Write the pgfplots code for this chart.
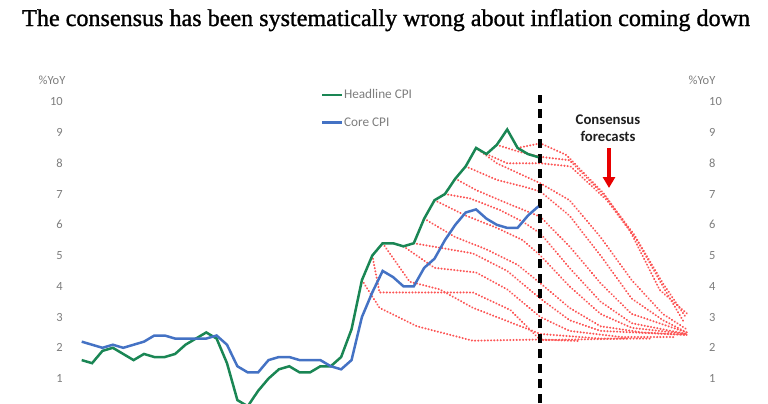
\documentclass[border=0pt]{standalone}
\usepackage{pgfplots}
\pgfplotsset{compat=1.18}
\usepackage{fontspec}
\setmainfont{Liberation Serif}
\newfontfamily\titlefont[FakeBold=1.2]{Liberation Serif}
\newfontfamily\calfont{Carlito}
\usetikzlibrary{arrows.meta}
\definecolor{hgreen}{RGB}{26,134,84}
\definecolor{cblue}{RGB}{68,114,196}
\definecolor{fred}{RGB}{252,85,85}
\definecolor{tgray}{RGB}{125,125,125}
\definecolor{arrred}{RGB}{232,0,0}
\pgfplotsset{
  base/.style={
    scale only axis, width=630bp, height=308bp,
    xmin=-1.128, xmax=59.58, ymin=0.205, ymax=10.221,
    axis line style={draw=none}, major tick length=0pt,
    xtick=\empty, ytick={1,2,3,4,5,6,7,8,9,10},
    /pgf/number format/assume math mode=true,
  },
  fc/.style={fred, line width=2.1bp, line cap=round, dash pattern=on 0.2bp off 3.0bp, forget plot},
}
\begin{document}
\begin{tikzpicture}[x=1bp,y=1bp]
\path[use as bounding box] (0,0) rectangle (768,403);
\node[anchor=base west, inner sep=0, font=\titlefont\fontsize{24.2}{28}\selectfont] at (22,377) {The consensus has been systematically wrong about inflation coming down};
\begin{axis}[base, at={(70bp,0bp)}, anchor=south west,
  yticklabel pos=left,
  yticklabel style={font=\calfont\fontsize{12.5}{14}\selectfont, text=tgray, anchor=east, inner sep=0pt, xshift=-7bp},
  legend style={at={(0.398,1.020)}, anchor=north west, draw=none, fill=none, inner sep=0pt,
    font=\calfont\fontsize{13.3}{15}\selectfont, text=tgray, row sep=16bp,
    nodes={inner sep=0.6bp}},
  legend cell align=left,
  legend image code/.code={\draw[#1] (0bp,0bp) -- (20bp,0bp);},
]
% consensus forecasts
\addplot[fc] coordinates {(27,4.2)(28.7,3.3)(32.3,2.7)(37.7,2.23)(44.2,2.27)(48,2.22)};
\addplot[fc] coordinates {(28,5.0)(28.7,3.8)(37.7,3.8)(41.3,3.23)(44.2,2.25)(52.5,2.3)};
\addplot[fc] coordinates {(29,5.4)(31.6,4.15)(34.5,3.9)(37.7,3.3)(44.2,2.45)(50,2.3)(55,2.3)};
\addplot[fc] coordinates {(31,5.3)(34,4.6)(38,4.45)(41,3.9)(44.2,3.0)(47,2.55)(52,2.35)(57,2.35)};
\addplot[fc] coordinates {(32,5.4)(37.7,5.07)(41,4.5)(44.2,3.6)(47,2.9)(50,2.55)(58.3,2.42)};
\addplot[fc] coordinates {(33,6.2)(36,5.6)(39,5.2)(42,4.7)(44.2,4.1)(47,3.3)(50,2.7)(54,2.5)(58.3,2.42)};
\addplot[fc] coordinates {(34,6.8)(37,6.3)(40,5.9)(42.5,5.5)(44.2,5.0)(47,4.0)(50,3.1)(53,2.65)(58.3,2.45)};
\addplot[fc] coordinates {(35,7.0)(37.4,6.86)(40.3,6.48)(42.5,6.1)(44.2,5.72)(47,4.6)(50,3.5)(53,2.8)(58.3,2.45)};
\addplot[fc] coordinates {(36,7.5)(38,7.13)(41,6.7)(44.2,6.26)(47,5.3)(50,4.1)(53,3.1)(58.3,2.5)};
\addplot[fc] coordinates {(37,7.9)(40,7.46)(42.6,7.24)(44.2,7.08)(47,6.3)(50,5.0)(53,3.6)(56,2.9)(58.3,2.5)};
\addplot[fc] coordinates {(38,8.5)(40,8.0)(44.2,7.35)(47,6.8)(50,5.6)(53,4.2)(56,3.1)(58.3,2.6)};
\addplot[fc] coordinates {(39,8.3)(41,8.0)(44.2,8.0)(47.1,7.9)(50.6,6.8)(53.5,5.5)(56,4.0)(58,2.85)};
\addplot[fc] coordinates {(40,8.6)(42.1,8.38)(44.2,8.21)(47,8.1)(50.5,6.9)(53.2,5.7)(56,4.1)(58.2,3.0)};
\addplot[fc] coordinates {(42,8.5)(44.2,8.65)(46.7,8.27)(50.3,7.02)(52.8,5.83)(55.7,3.88)(58.3,3.12)};
% today marker
\addplot[black, line width=3.5bp, dash pattern=on 9bp off 6bp, forget plot] coordinates {(44.17,0.205)(44.17,10.22)};
% actual series
\addplot[hgreen, line width=2.5bp] coordinates {(0,1.6)(1,1.5)(2,1.9)(3,2.0)(4,1.8)(5,1.6)(6,1.8)(7,1.7)(8,1.7)(9,1.8)(10,2.1)(11,2.3)(12,2.5)(13,2.3)(14,1.5)(15,0.3)(16,0.1)(17,0.6)(18,1.0)(19,1.3)(20,1.4)(21,1.2)(22,1.2)(23,1.4)(24,1.4)(25,1.7)(26,2.6)(27,4.2)(28,5.0)(29,5.4)(30,5.4)(31,5.3)(32,5.4)(33,6.2)(34,6.8)(35,7.0)(36,7.5)(37,7.9)(38,8.5)(39,8.3)(40,8.6)(41,9.1)(42,8.5)(43,8.3)(44,8.2)};
\addlegendentry{Headline CPI}
\addplot[cblue, line width=2.5bp] coordinates {(0,2.2)(1,2.1)(2,2.0)(3,2.1)(4,2.0)(5,2.1)(6,2.2)(7,2.4)(8,2.4)(9,2.3)(10,2.3)(11,2.3)(12,2.3)(13,2.4)(14,2.1)(15,1.4)(16,1.2)(17,1.2)(18,1.6)(19,1.7)(20,1.7)(21,1.6)(22,1.6)(23,1.6)(24,1.4)(25,1.3)(26,1.6)(27,3.0)(28,3.8)(29,4.5)(30,4.3)(31,4.0)(32,4.0)(33,4.6)(34,4.9)(35,5.5)(36,6.0)(37,6.4)(38,6.5)(39,6.2)(40,6.0)(41,5.9)(42,5.9)(43,6.3)(44,6.6)};
\addlegendentry{Core CPI}
\end{axis}
\begin{axis}[base, at={(70bp,0bp)}, anchor=south west,
  yticklabel pos=right,
  yticklabel style={font=\calfont\fontsize{12.5}{14}\selectfont, text=tgray, anchor=west, inner sep=0pt, xshift=9bp},
]
\addplot[draw=none, forget plot] coordinates {(0,1)(1,1)};
\end{axis}
\node[font=\calfont\fontsize{12.5}{14}\selectfont, text=tgray] at (52,323) {\%YoY};
\node[font=\calfont\fontsize{12.5}{14}\selectfont, text=tgray] at (702,323) {\%YoY};
\node[anchor=base, align=center, inner sep=0, font=\calfont\bfseries\fontsize{14.8}{17.3}\selectfont, text={rgb,255:red,30;green,30;blue,30}] at (608,261.2) {Consensus\\forecasts};
\draw[arrred, line width=3.8bp, -{Triangle[width=12bp,length=11bp]}] (609,255) -- (609,215);
\end{tikzpicture}
\end{document}
